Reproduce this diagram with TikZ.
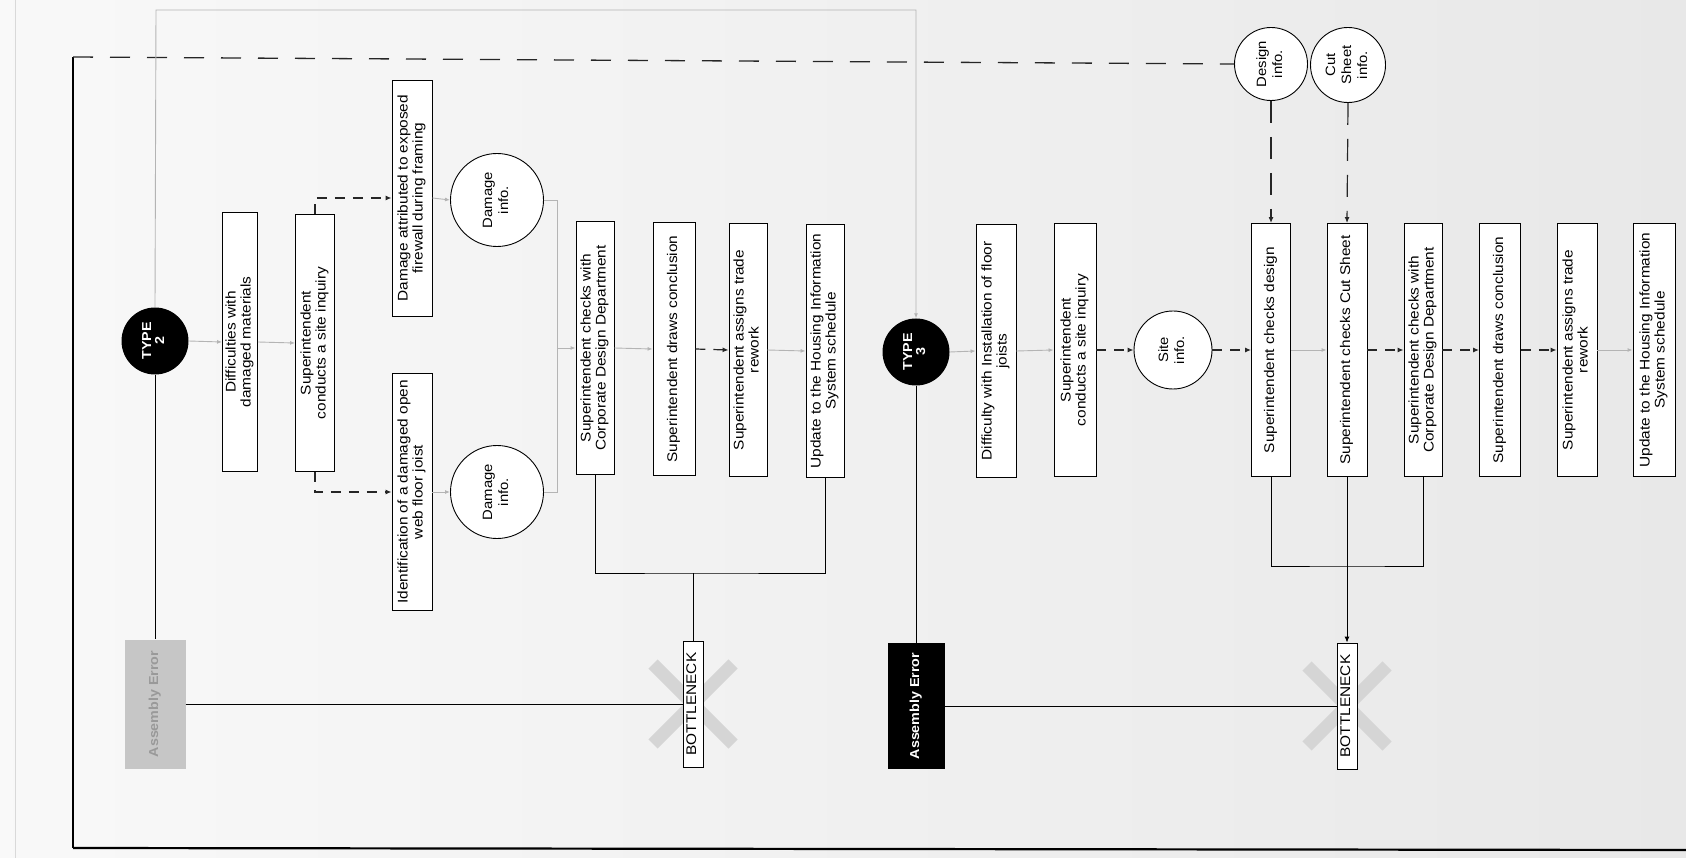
\documentclass[tikz,border=0pt]{standalone}
\usepackage{fontspec}
\setmainfont{Liberation Sans}
\usepackage{graphicx}
\usetikzlibrary{arrows.meta}
\definecolor{flowgray}{HTML}{B4B4B4}
\newcommand{\rtxt}[1]{\rotatebox{90}{\scalebox{1.1}[1]{\begin{tabular}{@{}c@{}}#1\end{tabular}}}}
\begin{document}
\begin{tikzpicture}[x=1pt,y=-1pt,
 pbox/.style={draw=black, line width=0.9pt, fill=white, inner sep=0pt, minimum width=40pt, minimum height=253pt, font=\fontsize{14}{15}\selectfont},
 infoc/.style={circle, draw=black, line width=0.9pt, fill=white, inner sep=0pt, font=\fontsize{13.5}{16}\selectfont},
 typec/.style={circle, fill=black, inner sep=0pt, minimum size=67pt, text=white, font=\bfseries\fontsize{13}{13}\selectfont},
 aebox/.style={fill=black, inner sep=0pt, minimum width=57pt, minimum height=126pt, text=white, font=\bfseries\fontsize{13}{15}\selectfont},
 bnbox/.style={draw=black, line width=0.9pt, fill=white, inner sep=0pt, minimum width=20pt, minimum height=126pt, font=\fontsize{14}{15}\selectfont},
 gflow/.style={draw=flowgray, line width=0.9pt, -{Latex[length=5pt,width=4pt]}},
 dflow/.style={draw=black!85, line width=1.2pt, dash pattern=on 10pt off 8pt, -{Latex[length=6pt,width=5pt]}},
 link/.style={draw=black, line width=0.9pt},
 xmark/.style={draw=gray!33, line width=13pt},
 frameline/.style={draw=black, line width=1.3pt}]
\useasboundingbox (0,0) rectangle (1686,858);
\shade[left color=gray!5, right color=gray!18] (0,0) rectangle (1686,858);
\draw[gray!30, line width=0.8pt] (15,0) -- (15,858);

% ---------- TYPE 2 ----------
\node[typec] (t2) at (155,341) {\rtxt{TYPE\\2}};
\node[pbox, minimum width=35pt, minimum height=259pt] (diff2) at (240,342) {\rtxt{Difficulties with\\damaged materials}};
\node[pbox, minimum width=39pt, minimum height=257pt] (sup2) at (315,343) {\rtxt{Superintendent\\conducts a site inquiry}};
\node[pbox, minimum height=236pt] (dmgA) at (412,198) {\rtxt{Damage attributed to exposed\\firewall during framing}};
\node[pbox, minimum height=237pt] (ident) at (412,492) {\rtxt{Identification of a damaged open\\web floor joist}};
\node[infoc, minimum size=93pt] (di1) at (497,200) {\rtxt{Damage\\info.}};
\node[infoc, minimum size=93pt] (di2) at (497,492) {\rtxt{Damage\\info.}};
\node[pbox, minimum width=38pt] (cdd2) at (595,348) {\rtxt{Superintendent checks with\\Corporate Design Department}};
\node[pbox, minimum width=42pt] (draw2) at (674,349) {\rtxt{Superintendent draws conclusion}};
\node[pbox, minimum width=38pt] (assign2) at (748,350) {\rtxt{Superintendent assigns trade\\rework}};
\node[pbox, minimum width=38pt] (upd2) at (825,351) {\rtxt{Update to the Housing Information\\System schedule}};

\coordinate (bn1c) at (693,704);
\draw[xmark] (bn1c) ++(-40,-40) -- ++(80,80);
\draw[xmark] (bn1c) ++(40,-40) -- ++(-80,80);
\node[bnbox] (bn1) at (bn1c) {\rtxt{BOTTLENECK}};
\node[aebox, fill=gray!45, text=gray!80, minimum width=61pt, minimum height=129pt] (ae2) at (155,704) {\rtxt{Assembly Error}};

% ---------- TYPE 3 ----------
\node[typec] (t3) at (916,352) {\rtxt{TYPE\\3}};
\node[pbox, minimum width=40pt] (diff3) at (996,351) {\rtxt{Difficulty with Installation of floor\\joists}};
\node[pbox, minimum width=42pt] (sup3) at (1075,350) {\rtxt{Superintendent\\conducts a site inquiry}};
\node[infoc, minimum size=78pt] (site) at (1173,350) {\rtxt{Site\\info.}};
\node[pbox, minimum width=39pt] (chkD) at (1271,350) {\rtxt{Superintendent checks design}};
\node[pbox, minimum width=40pt] (chkC) at (1347,350) {\rtxt{Superintendent checks Cut Sheet}};
\node[pbox, minimum width=38pt] (cdd3) at (1423,350) {\rtxt{Superintendent checks with\\Corporate Design Department}};
\node[pbox, minimum width=41pt] (draw3) at (1500,350) {\rtxt{Superintendent draws conclusion}};
\node[pbox, minimum width=40pt] (assign3) at (1577,350) {\rtxt{Superintendent assigns trade\\rework}};
\node[pbox, minimum width=42pt] (upd3) at (1654,350) {\rtxt{Update to the Housing Information\\System schedule}};
\node[infoc, minimum size=73pt] (desI) at (1271,64) {\rtxt{Design\\info.}};
\node[infoc, minimum size=75pt] (cutI) at (1348,65) {\rtxt{Cut\\Sheet\\info.}};

\coordinate (bn2c) at (1347,706);
\draw[xmark] (bn2c) ++(-40,-40) -- ++(80,80);
\draw[xmark] (bn2c) ++(40,-40) -- ++(-80,80);
\node[bnbox] (bn2) at (bn2c) {\rtxt{BOTTLENECK}};
\node[aebox] (ae3) at (916,706) {\rtxt{Assembly Error}};

% ---------- frame ----------
\coordinate (fr) at (73,57);
\coordinate (frb) at (73,848);
\coordinate (brb) at (1686,850);
\draw[frameline] (fr) -- (frb);
\draw[black, line width=2.2pt] (frb) -- (brb);
\draw[black!85, line width=1.3pt, dash pattern=on 20pt off 17pt] (fr) -- (desI.west);

% ---------- top gray connector ----------
\coordinate (tl) at (156,10);
\coordinate (tr) at (916,10);
\draw[gflow] (t2.north) -- (tl) -- (tr) -- (t3.north);

% ---------- TYPE 2 connectors ----------
\draw[gflow] (t2.east) -- (diff2.west);
\draw[gflow] (diff2.east) -- (sup2.west);
\draw[dflow] (sup2.north) |- (dmgA.west);
\draw[dflow] (sup2.south) |- (ident.west);
\draw[gflow] (dmgA.east) -- (di1.west);
\draw[gflow] (ident.east) -- (di2.west);
\coordinate (m1) at (557,200);
\coordinate (m2) at (557,492);
\coordinate (m3) at (557,348);
\draw[draw=flowgray, line width=0.9pt] (di1.east) -- (m1) -- (m2) -- (di2.east);
\draw[gflow] (m3) -- (cdd2.west);
\draw[gflow] (cdd2.east) -- (draw2.west);
\draw[dflow] (draw2.east) -- (assign2.west);
\draw[gflow] (assign2.east) -- (upd2.west);
\coordinate (g1) at (693,573);
\draw[link] (cdd2.south) |- (g1) -| (upd2.south);
\draw[link] (g1) -- (bn1.north);
\draw[link] (t2.south) -- (ae2.north);
\draw[link] (ae2.east) -- (bn1.west);

% ---------- TYPE 3 connectors ----------
\draw[gflow] (t3.east) -- (diff3.west);
\draw[gflow] (diff3.east) -- (sup3.west);
\draw[dflow] (sup3.east) -- (site.west);
\draw[dflow] (site.east) -- (chkD.west);
\draw[gflow] (chkD.east) -- (chkC.west);
\draw[dflow] (chkC.east) -- (cdd3.west);
\draw[dflow] (cdd3.east) -- (draw3.west);
\draw[dflow] (draw3.east) -- (assign3.west);
\draw[gflow] (assign3.east) -- (upd3.west);
\draw[black!85, line width=1.2pt, dash pattern=on 22pt off 14pt, -{Latex[length=6pt,width=5pt]}] (desI.south) -- (chkD.north);
\draw[black!85, line width=1.2pt, dash pattern=on 22pt off 14pt, -{Latex[length=6pt,width=5pt]}] (cutI.south) -- (chkC.north);
\coordinate (g2) at (1347,566);
\draw[link] (chkD.south) |- (g2) -| (cdd3.south);
\draw[link, -{Latex[length=6pt,width=5pt]}] (chkC.south) -- (bn2.north);
\draw[link] (t3.south) -- (ae3.north);
\draw[link] (ae3.east) -- (bn2.west);
\end{tikzpicture}
\end{document}
